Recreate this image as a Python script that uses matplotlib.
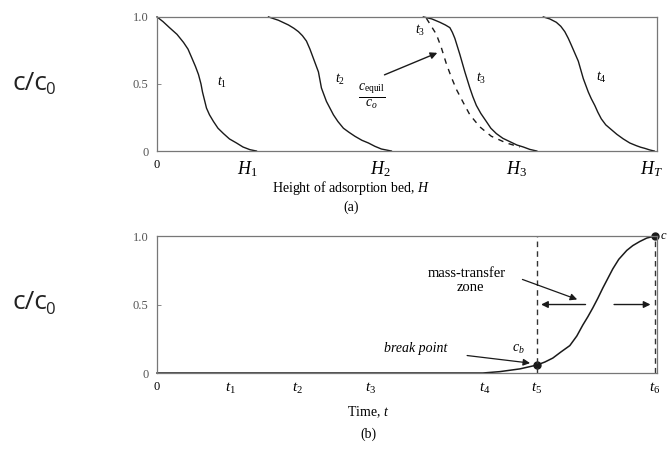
import matplotlib
matplotlib.use("Agg")
import matplotlib.pyplot as plt

plt.rcParams["font.family"] = ["Liberation Serif", "DejaVu Serif"]
plt.rcParams["mathtext.fontset"] = "custom"
plt.rcParams["mathtext.rm"] = "Liberation Serif"
plt.rcParams["mathtext.it"] = "Liberation Serif:italic"

# (a) concentration profiles along the bed at t1..t4
h_t1 = [0, 0.012, 0.025, 0.04, 0.053, 0.062, 0.069, 0.077, 0.083, 0.088, 0.091, 0.095,
        0.099, 0.105, 0.113, 0.122, 0.133, 0.145, 0.159, 0.172, 0.186, 0.199]
c_t1 = [1.0, 0.965, 0.92, 0.87, 0.81, 0.76, 0.70, 0.63, 0.57, 0.50, 0.44, 0.38,
        0.32, 0.27, 0.22, 0.17, 0.13, 0.09, 0.06, 0.03, 0.01, 0.0]
h_t2 = [0.223, 0.243, 0.263, 0.274, 0.283, 0.291, 0.299, 0.306, 0.313, 0.318, 0.323, 0.326, 0.329,
        0.334, 0.339, 0.346, 0.353, 0.362, 0.373, 0.384, 0.396, 0.41, 0.423, 0.436, 0.449, 0.469]
c_t2 = [1.0, 0.975, 0.94, 0.915, 0.89, 0.86, 0.82, 0.76, 0.69, 0.64, 0.59, 0.53, 0.47,
        0.42, 0.37, 0.32, 0.27, 0.22, 0.17, 0.14, 0.11, 0.08, 0.06, 0.035, 0.015, 0.0]
h_t3 = [0.533, 0.55, 0.566, 0.577, 0.586, 0.591, 0.596, 0.601, 0.606, 0.611, 0.616, 0.621, 0.626,
        0.632, 0.639, 0.648, 0.659, 0.668, 0.679, 0.692, 0.706, 0.72, 0.733, 0.746, 0.76]
c_t3 = [1.0, 0.985, 0.96, 0.94, 0.92, 0.885, 0.84, 0.78, 0.72, 0.655, 0.59, 0.53, 0.47,
        0.405, 0.34, 0.28, 0.22, 0.17, 0.13, 0.095, 0.07, 0.045, 0.03, 0.012, 0.0]
h_eq = [0.539, 0.559, 0.569, 0.579, 0.589, 0.599, 0.613, 0.626, 0.646, 0.669, 0.699, 0.726]
c_eq = [0.99, 0.87, 0.77, 0.65, 0.55, 0.46, 0.36, 0.27, 0.18, 0.11, 0.06, 0.03]
h_t4 = [0.773, 0.786, 0.799, 0.808, 0.816, 0.823, 0.829, 0.836, 0.843, 0.848, 0.853, 0.858, 0.863, 0.869,
        0.876, 0.882, 0.889, 0.898, 0.909, 0.92, 0.933, 0.946, 0.959, 0.968, 0.976, 0.986, 0.995]
c_t4 = [1.0, 0.985, 0.96, 0.93, 0.89, 0.84, 0.79, 0.73, 0.67, 0.605, 0.54, 0.49, 0.44, 0.39,
        0.34, 0.29, 0.24, 0.195, 0.16, 0.125, 0.09, 0.06, 0.04, 0.028, 0.02, 0.008, 0.0]

h_ticks = [0, 0.18, 0.446, 0.72, 0.99]
h_labels = ["0", "$H_1$", "$H_2$", "$H_3$", "$H_T$"]

# (b) breakthrough curve at the outlet
t_curve = [0, 0.652, 0.686, 0.726, 0.76, 0.776, 0.792, 0.808, 0.826, 0.84, 0.852, 0.862, 0.872,
           0.882, 0.892, 0.902, 0.912, 0.924, 0.94, 0.952, 0.966, 0.98, 0.996]
c_curve = [0, 0, 0.01, 0.03, 0.058, 0.08, 0.109, 0.153, 0.20, 0.27, 0.35, 0.41, 0.475,
           0.545, 0.62, 0.69, 0.76, 0.83, 0.895, 0.93, 0.96, 0.985, 1.0]
t_ticks = [0, 0.147, 0.281, 0.428, 0.655, 0.76, 0.996]
t_labels = ["0", "$t_1$", "$t_2$", "$t_3$", "$t_4$", "$t_5$", "$t_6$"]
c_break = 0.058

y_ticks = [0, 0.5, 1.0]
y_labels = ["0", "0.5", "1.0"]

ink = "#1a1a1a"
frame = "#777777"

fig = plt.figure(figsize=(6.69, 4.5), dpi=100)
ax1 = fig.add_axes([0.2347, 0.6644, 0.747, 0.298])
ax2 = fig.add_axes([0.2347, 0.1711, 0.747, 0.3044])

for ax in (ax1, ax2):
    ax.set_xlim(0, 1)
    ax.set_ylim(0, 1)
    for s in ax.spines.values():
        s.set_color(frame)
        s.set_linewidth(0.9)
    ax.set_yticks(y_ticks)
    ax.set_yticklabels(y_labels)
    ax.tick_params(axis="y", direction="in", length=3, width=0.6, color=frame,
                   labelsize=9, labelcolor="#555555", pad=6)
    ax.tick_params(axis="x", length=0, pad=6)

# top panel
for h, c in [(h_t1, c_t1), (h_t2, c_t2), (h_t3, c_t3), (h_t4, c_t4)]:
    ax1.plot(h, c, color=ink, lw=1.0, clip_on=False)
ax1.plot(h_eq, c_eq, color=ink, lw=1.0, ls=(0, (4, 4)), clip_on=False)
ax1.set_xticks(h_ticks)
ax1.set_xticklabels(h_labels)
ax1.tick_params(axis="x", labelsize=13)
ax1.get_xticklabels()[0].set_fontsize(9)

ax1.text(0.13, 0.51, "$t_1$", fontsize=10, ha="center", va="center")
ax1.text(0.366, 0.53, "$t_2$", fontsize=10, ha="center", va="center")
ax1.text(0.526, 0.90, "$t_3$", fontsize=10, ha="center", va="center")
ax1.text(0.649, 0.54, "$t_3$", fontsize=10, ha="center", va="center")
ax1.text(0.889, 0.55, "$t_4$", fontsize=10, ha="center", va="center")
ax1.text(0.43, 0.41, r"$\frac{c_{\mathrm{equil}}}{c_o}$", fontsize=14, ha="center", va="center")
ax1.annotate("", xy=(0.566, 0.74), xytext=(0.45, 0.56),
             arrowprops=dict(arrowstyle="-|>", color=ink, lw=1.0, mutation_scale=10))

fig.text(0.525, 0.582, "Height of adsorption bed, $H$", fontsize=10, ha="center", va="center")
fig.text(0.525, 0.54, "(a)", fontsize=10, ha="center", va="center")

# bottom panel
ax2.plot(t_curve, c_curve, color=ink, lw=1.1, clip_on=False)
ax2.plot([t_ticks[5], t_ticks[6]], [c_break, 1.0], "o", color=ink, ms=5, clip_on=False)
for tx in (t_ticks[5], t_ticks[6]):
    ax2.plot([tx, tx], [0, 1], color="#333333", lw=1.0, ls=(0, (4, 3)))
ax2.set_xticks(t_ticks)
ax2.set_xticklabels(t_labels)
ax2.tick_params(axis="x", labelsize=11)
ax2.get_xticklabels()[0].set_fontsize(9)

ax2.annotate("", xy=(t_ticks[5] + 0.003, 0.5), xytext=(0.863, 0.5),
             arrowprops=dict(arrowstyle="-|>", color=ink, lw=1.0, mutation_scale=10))
ax2.annotate("", xy=(t_ticks[6] - 0.003, 0.5), xytext=(0.909, 0.5),
             arrowprops=dict(arrowstyle="-|>", color=ink, lw=1.0, mutation_scale=10))
ax2.text(0.62, 0.73, "mass-transfer", fontsize=10.5, ha="center", va="center")
ax2.text(0.627, 0.625, "zone", fontsize=10.5, ha="center", va="center")
ax2.annotate("", xy=(0.846, 0.53), xytext=(0.726, 0.69),
             arrowprops=dict(arrowstyle="-|>", color=ink, lw=0.9, mutation_scale=10))
ax2.text(0.518, 0.18, "break point", fontsize=10, style="italic", ha="center", va="center")
ax2.annotate("", xy=(0.752, 0.07), xytext=(0.615, 0.13),
             arrowprops=dict(arrowstyle="-|>", color=ink, lw=0.9, mutation_scale=10))
ax2.text(0.723, 0.17, "$c_b$", fontsize=10, ha="center", va="center")
ax2.text(1.006, 1.0, "$c$", fontsize=9, ha="left", va="center", clip_on=False)

fig.text(0.55, 0.083, "Time, $t$", fontsize=10, ha="center", va="center")
fig.text(0.55, 0.036, "(b)", fontsize=10, ha="center", va="center")

# c/c0 labels on the left
for yy in (0.815, 0.327):
    fig.text(0.018, yy, "c/c", fontsize=19, family="Open Sans", ha="left", va="center", color="#222222")
    fig.text(0.068, yy - 0.016, "0", fontsize=12, family="Open Sans", ha="left", va="center", color="#222222")

fig.savefig("out.png", dpi=100)
